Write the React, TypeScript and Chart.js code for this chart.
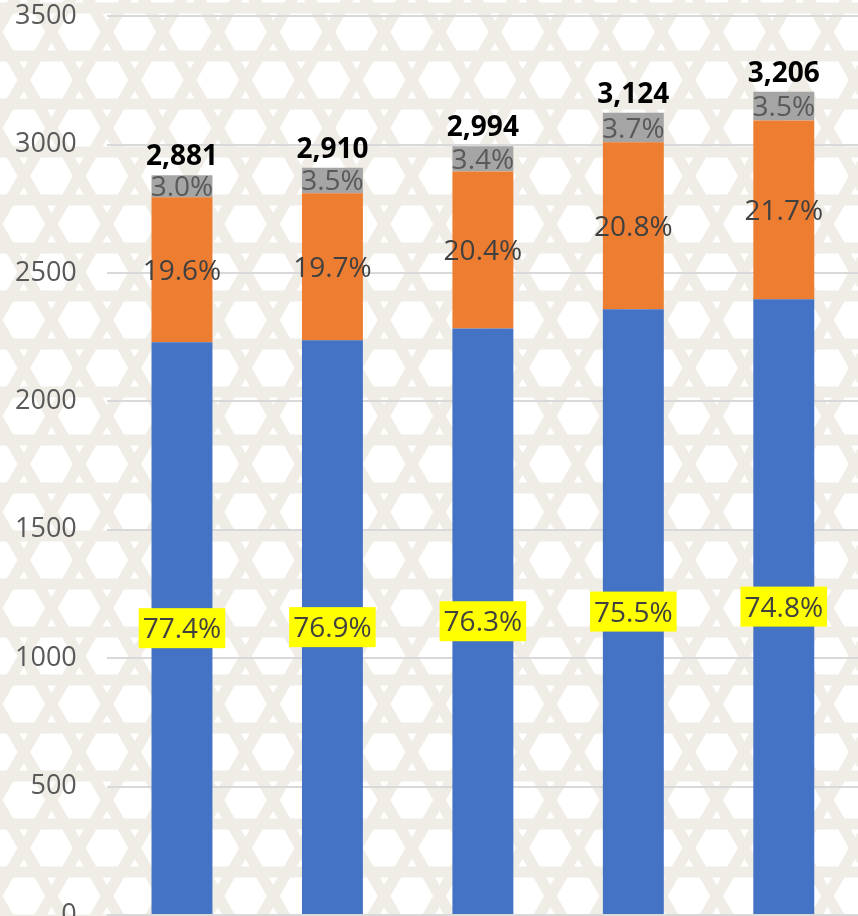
import React, { useEffect, useRef } from 'react';
import { Chart, registerables } from 'chart.js';

Chart.register(...registerables);

const categories = ['1', '2', '3', '4', '5'];
const totalLabels = ['2,881', '2,910', '2,994', '3,124', '3,206'];
const blueValues = [2230, 2238, 2284, 2359, 2398];
const orangeValues = [565, 573, 611, 650, 696];
const greyValues = [86, 99, 99, 115, 112];
const bluePct = ['77.4%', '76.9%', '76.3%', '75.5%', '74.8%'];
const orangePct = ['19.6%', '19.7%', '20.4%', '20.8%', '21.7%'];
const greyPct = ['3.0%', '3.5%', '3.4%', '3.7%', '3.5%'];
const yMin = 0;
const yMax = 3500;
const yStep = 500;

const FONT = '"Open Sans", "Noto Sans", sans-serif';

const backgroundPlugin = {
  id: 'patternBg',
  beforeDraw(chart: any) {
    const ctx = chart.ctx as CanvasRenderingContext2D;
    const w = chart.width;
    const h = chart.height;
    ctx.save();
    ctx.fillStyle = '#FFFFFF';
    ctx.fillRect(0, 0, w, h);
    ctx.strokeStyle = '#F0EDE6';
    ctx.lineWidth = 11;
    const d = 48;
    const L = 3000;
    [0, 60, 120].forEach((deg, fi) => {
      const t = (deg * Math.PI) / 180;
      const dx = Math.cos(t);
      const dy = Math.sin(t);
      const nx = -Math.sin(t);
      const ny = Math.cos(t);
      const off = fi === 1 ? d / 2 : 0;
      for (let k = -60; k <= 60; k++) {
        const px = nx * (k * d + off) + 10;
        const py = ny * (k * d + off) + 8;
        ctx.beginPath();
        ctx.moveTo(px - dx * L, py - dy * L);
        ctx.lineTo(px + dx * L, py + dy * L);
        ctx.stroke();
      }
    });
    ctx.restore();
  },
};

const labelsPlugin = {
  id: 'barLabels',
  afterDatasetsDraw(chart: any) {
    const ctx = chart.ctx as CanvasRenderingContext2D;
    const labelSets = [bluePct, orangePct, greyPct];
    const colors = ['#404040', '#404040', '#595959'];
    const size = 28;
    ctx.save();
    ctx.textAlign = 'center';
    ctx.textBaseline = 'alphabetic';
    for (let i = 0; i < 3; i++) {
      const meta = chart.getDatasetMeta(i);
      meta.data.forEach((bar: any, j: number) => {
        const p = bar.getProps(['x', 'y', 'base'], true);
        const cy = (p.y + p.base) / 2;
        const text = labelSets[i][j];
        ctx.font = `${size}px ${FONT}`;
        if (i === 0) {
          const tw = ctx.measureText(text).width;
          ctx.fillStyle = '#FFFF00';
          ctx.fillRect(p.x - tw / 2 - 4, cy - 20, tw + 8, 40);
        }
        ctx.fillStyle = colors[i];
        ctx.fillText(text, p.x, cy + size * 0.357);
      });
    }
    const topMeta = chart.getDatasetMeta(2);
    ctx.font = `bold 28px ${FONT}`;
    ctx.fillStyle = '#000000';
    topMeta.data.forEach((bar: any, j: number) => {
      const p = bar.getProps(['x', 'y'], true);
      ctx.fillText(totalLabels[j], p.x, p.y - 10);
    });
    ctx.restore();
  },
};

export default function App() {
  const ref = useRef<HTMLCanvasElement | null>(null);

  useEffect(() => {
    document.body.style.margin = '0';
    const canvas = ref.current!;
    const chart = new Chart(canvas, {
      type: 'bar',
      data: {
        labels: categories,
        datasets: [
          { label: 'A', data: blueValues, backgroundColor: '#4472C4' },
          { label: 'B', data: orangeValues, backgroundColor: '#ED7D31' },
          { label: 'C', data: greyValues, backgroundColor: '#A5A5A5' },
        ],
      },
      options: {
        animation: false,
        responsive: false,
        devicePixelRatio: 1,
        datasets: {
          bar: { barPercentage: 0.405, categoryPercentage: 1 },
        },
        layout: { padding: { left: 15, right: 1, top: 0, bottom: 12 } },
        plugins: {
          legend: { display: false },
          tooltip: { enabled: false },
        },
        scales: {
          x: {
            stacked: true,
            grid: { display: false },
            border: { display: false },
            ticks: { display: false },
          },
          y: {
            stacked: true,
            min: yMin,
            max: yMax,
            ticks: {
              stepSize: yStep,
              padding: 0,
              color: '#595959',
              font: { family: FONT, size: 27 },
              callback: (v: any) => String(v),
            },
            grid: {
              color: '#D9D9D9',
              lineWidth: 2,
              drawTicks: true,
              tickLength: 30,
              tickColor: 'rgba(0,0,0,0)',
            },
            border: { display: false },
          },
        },
      },
      plugins: [backgroundPlugin, labelsPlugin],
    });
    return () => chart.destroy();
  }, []);

  return (
    <div style={{ position: 'fixed', top: 0, left: 0, width: 858, height: 916, overflow: 'hidden' }}>
      <canvas ref={ref} width={860} height={935} style={{ display: 'block' }} />
    </div>
  );
}
